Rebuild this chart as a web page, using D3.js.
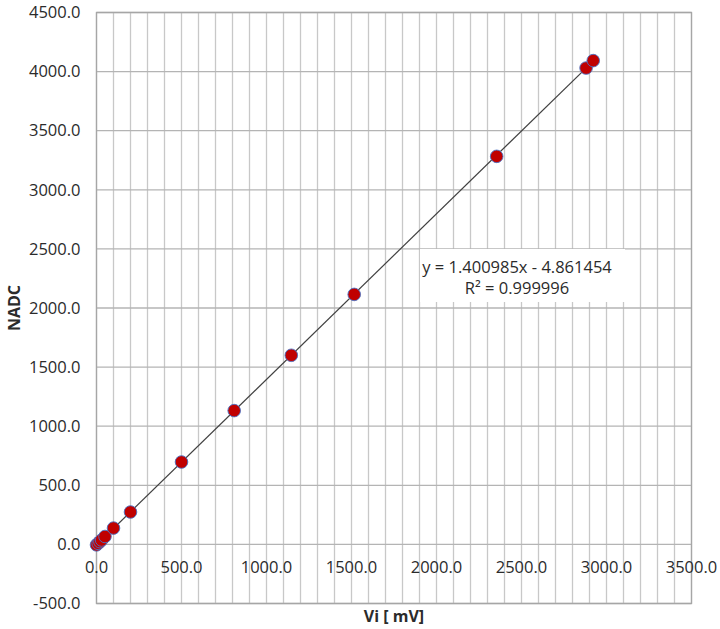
<!DOCTYPE html>
<html>
<head>
<meta charset="utf-8">
<script src="https://cdn.jsdelivr.net/npm/d3@7"></script>
<style>
  body { margin: 0; background: #fff; }
  text { font-family: "Open Sans", "Liberation Sans", sans-serif; fill: #2b2b2b; }
</style>
</head>
<body>
<div id="chart"></div>
<script>
const width = 720;
const height = 629;

// measured points (Vi in mV, NADC)
const viValues = [0, 10, 20, 30, 50, 100, 200, 500, 810, 1146, 1516, 2354, 2880, 2922];
const nadcValues = [-4, 9, 23, 37, 67, 138, 274, 697, 1132, 1600, 2115, 3283, 4030, 4093];

const xTicks = [0, 500, 1000, 1500, 2000, 2500, 3000, 3500];
const yTicks = [-500, 0, 500, 1000, 1500, 2000, 2500, 3000, 3500, 4000, 4500];
const xGridStep = 100;

const fitSlope = 1.400985;
const fitIntercept = -4.861454;
const fitLabel = 'y = 1.400985x - 4.861454';

const margin = { top: 12.5, right: 28.5, bottom: 25.5, left: 96.5 };

const points = viValues.map((v, i) => ({ x: v, y: nadcValues[i] }));

// plain hyphen for negatives, one decimal like the spreadsheet
const fmt = d => d.toFixed(1);

const svg = d3.select('#chart')
  .append('svg')
  .attr('width', width)
  .attr('height', height);

const xScale = d3.scaleLinear()
  .domain([0, 3500])
  .range([margin.left, width - margin.right]);

const yScale = d3.scaleLinear()
  .domain([-500, 4500])
  .range([height - margin.bottom, margin.top]);

// vertical grid lines every 100
const xGrid = d3.range(0, 3500 + 1, xGridStep);
svg.append('g')
  .selectAll('line')
  .data(xGrid)
  .join('line')
  .attr('x1', d => xScale(d))
  .attr('x2', d => xScale(d))
  .attr('y1', yScale(4500))
  .attr('y2', yScale(-500))
  .attr('stroke', '#c8c8c8')
  .attr('stroke-width', 1.3);

// horizontal grid lines
svg.append('g')
  .selectAll('line')
  .data(yTicks)
  .join('line')
  .attr('x1', xScale(0))
  .attr('x2', xScale(3500))
  .attr('y1', d => yScale(d))
  .attr('y2', d => yScale(d))
  .attr('stroke', '#b4b4b4')
  .attr('stroke-width', 1.3);

// plot frame
svg.append('rect')
  .attr('x', xScale(0))
  .attr('y', yScale(4500))
  .attr('width', xScale(3500) - xScale(0))
  .attr('height', yScale(-500) - yScale(4500))
  .attr('fill', 'none')
  .attr('stroke', '#a6a6a6')
  .attr('stroke-width', 1.3);

// y tick labels
svg.append('g')
  .selectAll('text')
  .data(yTicks)
  .join('text')
  .attr('x', xScale(0) - 16)
  .attr('y', d => yScale(d))
  .attr('dy', '0.35em')
  .attr('text-anchor', 'end')
  .style('font-size', '16.5px')
  .text(fmt);

// x tick labels, sitting under the zero line
svg.append('g')
  .selectAll('text')
  .data(xTicks)
  .join('text')
  .attr('x', d => xScale(d))
  .attr('y', yScale(0) + 23)
  .attr('dy', '0.35em')
  .attr('text-anchor', 'middle')
  .style('font-size', '16.5px')
  .text(fmt);

// linear trend line
const [x0, x1] = d3.extent(viValues);
svg.append('line')
  .attr('x1', xScale(x0))
  .attr('y1', yScale(fitSlope * x0 + fitIntercept))
  .attr('x2', xScale(x1))
  .attr('y2', yScale(fitSlope * x1 + fitIntercept))
  .attr('stroke', '#404040')
  .attr('stroke-width', 1.2);

// points
svg.append('g')
  .selectAll('circle')
  .data(points)
  .join('circle')
  .attr('cx', d => xScale(d.x))
  .attr('cy', d => yScale(d.y))
  .attr('r', 6.3)
  .attr('fill', '#c00000')
  .attr('stroke', '#4a72c4')
  .attr('stroke-width', 0.9);

// trendline equation box
const box = svg.append('g');
box.append('rect')
  .attr('x', 420)
  .attr('y', 249)
  .attr('width', 205)
  .attr('height', 53)
  .attr('fill', '#fff');
box.append('text')
  .attr('x', 517)
  .attr('y', 273)
  .attr('text-anchor', 'middle')
  .style('font-size', '16.5px')
  .text(fitLabel);
box.append('text')
  .attr('x', 517)
  .attr('y', 294)
  .attr('text-anchor', 'middle')
  .style('font-size', '16.5px')
  .text('R² = 0.999996');

// axis titles
svg.append('text')
  .attr('x', xScale(1750))
  .attr('y', 616)
  .attr('dy', '0.35em')
  .attr('text-anchor', 'middle')
  .style('font-size', '16px')
  .style('font-weight', 'bold')
  .text('Vi [ mV]');

svg.append('text')
  .attr('transform', `translate(14, ${yScale(2000)}) rotate(-90)`)
  .attr('dy', '0.35em')
  .attr('text-anchor', 'middle')
  .style('font-size', '16px')
  .style('font-weight', 'bold')
  .text('NADC');
</script>
</body>
</html>
